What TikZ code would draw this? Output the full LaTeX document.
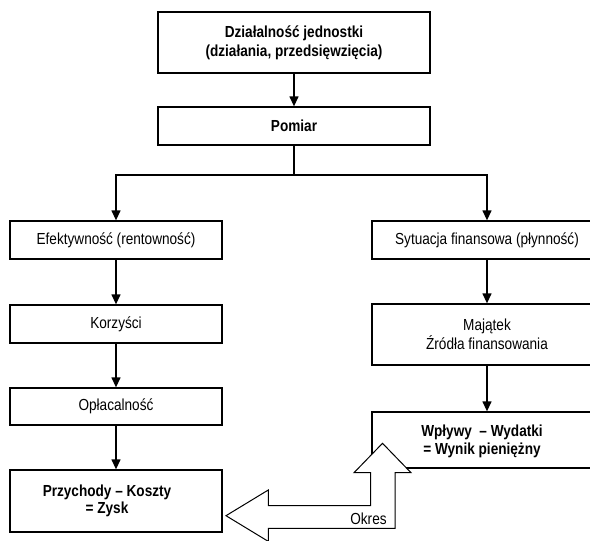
\documentclass[tikz,border=0pt]{standalone}
\usepackage{fontspec}
\setmainfont[FakeStretch=0.85]{Liberation Sans}
\usetikzlibrary{arrows.meta}
\tikzset{
  box/.style={draw=black, line width=1.3pt, rectangle, fill=white, inner sep=0pt, align=center,
    font=\fontsize{16}{19}\selectfont},
  txt/.style={inner sep=0pt, align=center, font=\fontsize{16}{18.5}\selectfont},
  conn/.style={line width=1.3pt, -{Triangle[width=9pt,length=10pt]}},
  plain/.style={line width=1.3pt},
  bigarrow/.style={draw=black, fill=white, line width=1pt, line join=miter}
}
\begin{document}
\begin{tikzpicture}[x=1pt,y=-1pt]
\useasboundingbox (0,0) rectangle (590,541);
\clip (0,0) rectangle (590,541);
% top
\node[box, minimum width=272pt, minimum height=61pt] (act) at (294,42.5)
  {\bfseries Działalność jednostki\\\bfseries (działania, przedsięwzięcia)};
\node[box, minimum width=272pt, minimum height=38pt] (pom) at (294,126) {\bfseries Pomiar};
\coordinate (split) at (294,175);
% left column
\node[box, minimum width=212pt, minimum height=38pt] (efe) at (116,240) {Efektywność (rentowność)};
\node[box, minimum width=212pt, minimum height=38pt] (kor) at (116,324) {Korzyści};
\node[box, minimum width=212pt, minimum height=37pt] (opl) at (116,406.5) {Opłacalność};
\node[box, minimum width=212pt, minimum height=62pt] (prz) at (116,501) {};
\node[txt, font=\fontsize{16}{17}\selectfont\bfseries] (przt) at (107,501) {Przychody – Koszty\\= Zysk};
% right column
\node[box, minimum width=230pt, minimum height=38pt] (syt) at (487,240) {Sytuacja finansowa (płynność)};
\node[box, minimum width=230pt, minimum height=61pt] (maj) at (487,334.5) {Majątek\\Źródła finansowania};
\node[box, minimum width=230pt, minimum height=56pt] (wpl) at (487,440) {};
\node[txt, font=\fontsize{16}{18}\selectfont\bfseries] (wplt) at (482,441) {Wpływy \ – Wydatki\\= Wynik pieniężny};
% connectors
\draw[conn] (act) -- (pom);
\draw[plain] (pom) -- (split);
\draw[conn] (split) -| (efe.north);
\draw[conn] (split) -| (syt.north);
\draw[conn] (efe) -- (kor);
\draw[conn] (kor) -- (opl);
\draw[conn] (opl) -- (prz);
\draw[conn] (syt) -- (maj);
\draw[conn] (maj) -- (wpl);
% big hollow arrow
\draw[bigarrow] (226,515.7) -- (268.3,490) -- (268.3,505.7) -- (370.7,505.7) -- (370.7,472.7)
  -- (354,472.7) -- (382.5,443.3) -- (411,472.7) -- (395,472.7) -- (395,528.3)
  -- (268.3,528.3) -- (268.3,541.4) -- cycle;
\node[txt] (okres) at (368.5,518.5) {Okres};
\end{tikzpicture}
\end{document}
